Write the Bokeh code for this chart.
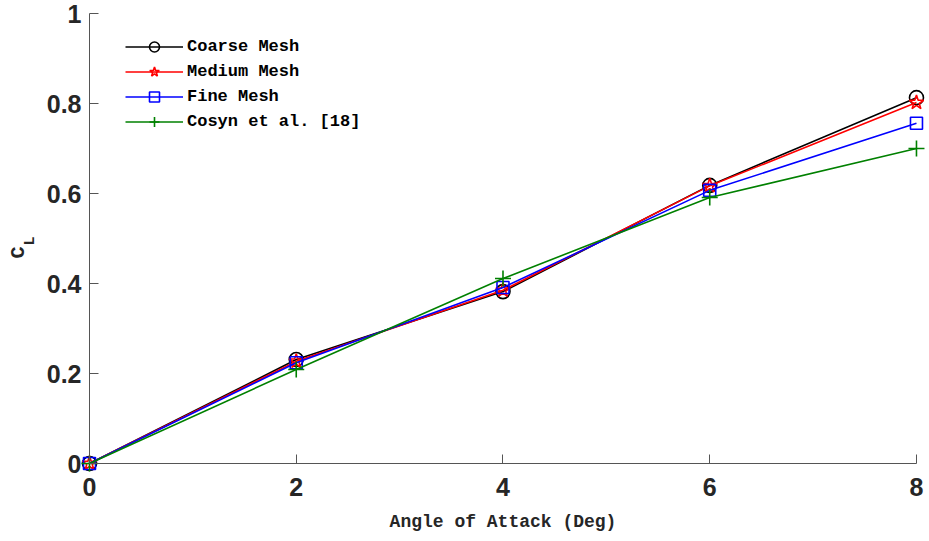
import math
from bokeh.plotting import figure
from bokeh.models import Range1d, FixedTicker, Label, Legend, LegendItem
from bokeh.embed import file_html
from bokeh.resources import INLINE

# Lift coefficient versus angle of attack for three mesh levels and reference data
aoa = [0, 2, 4, 6, 8]
cl_coarse = [0.0, 0.231, 0.382, 0.618, 0.813]
cl_medium = [0.0, 0.227, 0.385, 0.617, 0.802]
cl_fine = [0.0, 0.224, 0.391, 0.607, 0.756]
cl_cosyn = [0.0, 0.209, 0.411, 0.591, 0.700]

x_ticks = [0, 2, 4, 6, 8]
y_ticks = [0, 0.2, 0.4, 0.6, 0.8, 1.0]

MONO = "Liberation Mono"
SANS = "Liberation Sans"
AXIS_COLOR = "#555555"
TEXT_COLOR = "#262626"

# The frame fills the whole canvas; the axes sit at x = 0 and y = 0 inside it,
# which leaves room for the edge markers and for the titles.
p = figure(
    width=929, height=541,
    x_range=Range1d(-0.861, 8.126), y_range=Range1d(-0.1733, 1.0289),
    output_backend="svg", toolbar_location=None,
    min_border_left=0, min_border_right=0, min_border_top=0, min_border_bottom=0,
)
p.outline_line_color = None
p.xgrid.visible = False
p.ygrid.visible = False

for ax, ticks, bounds in ((p.xaxis[0], x_ticks, (0, 8)), (p.yaxis[0], y_ticks, (0, 1))):
    ax.fixed_location = 0
    ax.bounds = bounds
    ax.ticker = FixedTicker(ticks=ticks)
    ax.minor_tick_line_color = None
    ax.major_tick_in = 9
    ax.major_tick_out = 0
    ax.axis_line_color = AXIS_COLOR
    ax.major_tick_line_color = AXIS_COLOR
    ax.major_label_text_font = SANS
    ax.major_label_text_font_style = "bold"
    ax.major_label_text_font_size = "25px"
    ax.major_label_text_color = TEXT_COLOR

p.xaxis.major_label_standoff = 14
p.yaxis.major_label_standoff = 8
p.yaxis.major_label_overrides = {0: "0", 1: "1"}
p.xaxis.axis_label = "Angle of Attack (Deg)"
p.xaxis.axis_label_text_font = MONO
p.xaxis.axis_label_text_font_style = "bold"
p.xaxis.axis_label_text_font_size = "18px"
p.xaxis.axis_label_text_color = TEXT_COLOR
p.xaxis.axis_label_standoff = 13

series = [
    ("Coarse Mesh", cl_coarse, "#000000", "circle", 14),
    ("Medium Mesh", cl_medium, "#ff0000", "star", 15),
    ("Fine Mesh", cl_fine, "#0000ff", "square", 12),
    ("Cosyn et al. [18]", cl_cosyn, "#008000", "cross", 16),
]

items = []
for name, vals, col, mk, sz in series:
    ln = p.line(aoa, vals, line_color=col, line_width=1.6)
    sc = p.scatter(aoa, vals, marker=mk, size=sz, line_color=col,
                   fill_color=None, line_width=1.6)
    items.append(LegendItem(label=name, renderers=[ln, sc]))

legend = Legend(
    items=items, location=(125, 407),
    glyph_width=58, glyph_height=25, label_height=25,
    label_standoff=4, spacing=0, padding=0, margin=0,
    border_line_color=None, background_fill_alpha=0,
    label_text_font=MONO, label_text_font_style="bold",
    label_text_font_size="17px", label_text_color="#000000",
)
p.add_layout(legend, "center")

# y-axis title: C with subscript L, rotated
p.add_layout(Label(x=0, y=0.46, x_offset=-60, y_offset=-2, text="C", angle=math.pi / 2,
                   text_font=MONO, text_font_style="bold", text_font_size="20px",
                   text_color=TEXT_COLOR, text_align="left", text_baseline="bottom"))
p.add_layout(Label(x=0, y=0.46, x_offset=-51, y_offset=11, text="L", angle=math.pi / 2,
                   text_font=MONO, text_font_style="bold", text_font_size="15px",
                   text_color=TEXT_COLOR, text_align="left", text_baseline="bottom"))

open("out.html", "w").write(file_html(p, INLINE))
